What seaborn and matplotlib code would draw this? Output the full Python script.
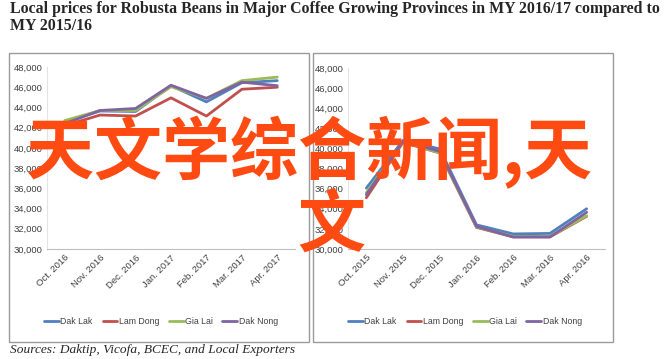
import pandas as pd
import seaborn as sns
import matplotlib.pyplot as plt
from matplotlib.patches import Rectangle

# Monthly local prices (VND/kg)
provinces = ["Dak Lak", "Lam Dong", "Gia Lai", "Dak Nong"]
colors = ["#4F81BD", "#C0504D", "#9BBB59", "#8064A2"]

months_1617 = ["Oct. 2016", "Nov. 2016", "Dec. 2016", "Jan. 2017", "Feb. 2017", "Mar. 2017", "Apr. 2017"]
dak_lak_1617 = [42600, 43650, 43600, 46150, 44550, 46450, 46650]
lam_dong_1617 = [42200, 43250, 43150, 44950, 43150, 45800, 46000]
gia_lai_1617 = [42700, 43700, 43700, 46050, 44900, 46650, 47000]
dak_nong_1617 = [42400, 43700, 43900, 46200, 44900, 46500, 46150]

months_1516 = ["Oct. 2015", "Nov. 2015", "Dec. 2015", "Jan. 2016", "Feb. 2016", "Mar. 2016", "Apr. 2016"]
dak_lak_1516 = [36050, 40800, 39950, 32400, 31500, 31550, 34000]
lam_dong_1516 = [35100, 40600, 39550, 32150, 31200, 31200, 33250]
gia_lai_1516 = [35600, 40700, 39550, 32200, 31250, 31250, 33300]
dak_nong_1516 = [35400, 40750, 39700, 32250, 31200, 31200, 33650]

y_ticks = [30000, 32000, 34000, 36000, 38000, 40000, 42000, 44000, 46000, 48000]


def to_long(months, series):
    rows = []
    for prov, vals in zip(provinces, series):
        for i, (m, v) in enumerate(zip(months, vals)):
            rows.append({"pos": i, "Month": m, "Province": prov, "Price": v})
    return pd.DataFrame(rows)


df_1617 = to_long(months_1617, [dak_lak_1617, lam_dong_1617, gia_lai_1617, dak_nong_1617])
df_1516 = to_long(months_1516, [dak_lak_1516, lam_dong_1516, gia_lai_1516, dak_nong_1516])

sns.set_style("white")
plt.rcParams["font.family"] = ["Liberation Sans", "DejaVu Sans"]

W, H = 665, 359
fig = plt.figure(figsize=(W / 100, H / 100), dpi=100)


def px_axes(x0, x1, y0, y1):
    return fig.add_axes([x0 / W, 1 - y1 / H, (x1 - x0) / W, (y1 - y0) / H])


# panel frames
for x0, x1 in [(9, 309), (313, 613)]:
    fig.patches.append(Rectangle((x0 / W, 1 - 342 / H), (x1 - x0) / W, (342 - 53) / H,
                                 transform=fig.transFigure, fill=False,
                                 edgecolor="#9A9A9A", linewidth=1.0))

panels = [(px_axes(47, 295, 67, 249), df_1617, months_1617, 161),
          (px_axes(348, 605, 68, 249), df_1516, months_1516, 465)]

for ax, df, months, legend_x in panels:
    sns.lineplot(data=df, x="pos", y="Price", hue="Province", hue_order=provinces,
                 palette=colors, linewidth=2.0, ax=ax, legend=False)
    ax.set_xlim(-0.5, 6.5)
    ax.set_ylim(30000, 48000)
    ax.set_yticks(y_ticks)
    ax.set_yticklabels([f"{v:,}" for v in y_ticks], fontsize=6.8, color="#404040")
    ax.set_xticks(range(len(months)))
    ax.set_xticklabels(months, rotation=45, ha="right", rotation_mode="anchor",
                       fontsize=6.8, color="#404040")
    ax.tick_params(length=0, pad=3)
    ax.set_xlabel("")
    ax.set_ylabel("")
    for side in ["top", "right"]:
        ax.spines[side].set_visible(False)
    ax.spines["bottom"].set_color("#BFBFBF")
    ax.spines["left"].set_color("#E3E3E3")
    ax.spines["bottom"].set_linewidth(0.8)
    ax.spines["left"].set_linewidth(0.8)
    ax.patch.set_alpha(0)

    handles = [plt.Line2D([], [], color=c, linewidth=2) for c in colors]
    fig.legend(handles, provinces, loc="center", ncol=4, frameon=False,
               bbox_to_anchor=(legend_x / W, 1 - 322 / H), fontsize=6.3,
               handlelength=1.7, handletextpad=0.15, columnspacing=1.1,
               labelcolor="#404040")

fig.text(10 / W, 1 - 1 / H,
         "Local prices for Robusta Beans in Major Coffee Growing Provinces in MY 2016/17 compared to\nMY 2015/16",
         ha="left", va="top", fontsize=11.4, fontweight="bold", family="Liberation Serif",
         linespacing=1.05)
fig.text(10 / W, 1 - 350 / H, "Sources: Daktip, Vicofa, BCEC, and Local Exporters",
         ha="left", va="center", fontsize=9.6, style="italic", family="Liberation Serif")

# watermark overlay
wm = "#FF4A12"
fig.text(309 / W, 1 - 153 / H, "天文学综合新闻,天", ha="center", va="center", fontsize=49,
         fontweight="bold", color=wm, family=["Noto Sans CJK SC", "DejaVu Sans"])
fig.text(331 / W, 1 - 226 / H, "文", ha="center", va="center", fontsize=49,
         fontweight="bold", color=wm, family=["Noto Sans CJK SC", "DejaVu Sans"])

fig.savefig("out.png", dpi=100)
